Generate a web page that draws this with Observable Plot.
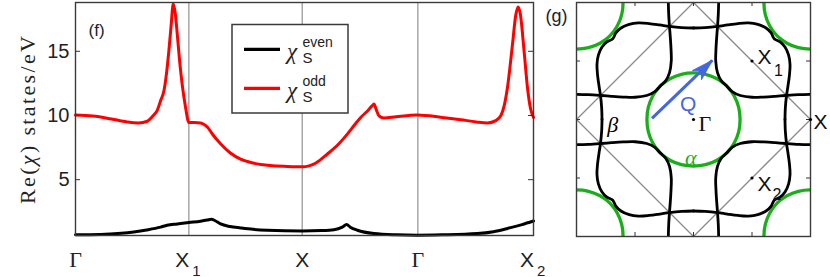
<!DOCTYPE html>
<html><head><meta charset="utf-8">
<script src="https://cdn.jsdelivr.net/npm/d3@7"></script>
<script src="https://cdn.jsdelivr.net/npm/@observablehq/plot@0.6"></script>
<style>
html,body{margin:0;padding:0;background:#fff;}
#wrap{position:relative;width:830px;height:277px;overflow:hidden;background:#fff;}
#wrap > *{position:absolute;top:0;}
</style></head><body><div id="wrap"></div>
<script>
// ===== Panel (f): Re(chi) along the high-symmetry path =====
const pathPos  = [0, 0.99, 1.98, 2.99, 4];
const pathName = ["Γ", "X", "X", "Γ", "X"];
const pathSub  = ["", "1", "", "", "2"];
const yTicks   = [5, 10, 15];

const oddK = [0, 0.15, 0.3, 0.45, 0.55, 0.627, 0.68, 0.714, 0.745, 0.772, 0.795, 0.815, 0.835, 0.854, 0.872, 0.889, 0.91, 0.932, 0.96, 0.99,
  1.04, 1.092, 1.151, 1.2, 1.267, 1.35, 1.442, 1.55, 1.7, 1.85, 1.981, 2.1, 2.2, 2.3, 2.374, 2.44, 2.491, 2.55, 2.59, 2.607, 2.625, 2.651, 2.694,
  2.8, 2.986, 3.2, 3.365, 3.5, 3.598, 3.67, 3.714, 3.75, 3.773, 3.816, 3.845, 3.865, 3.885, 3.918, 3.947, 3.975, 4.0];
const oddV = [10.03, 9.95, 9.75, 9.5, 9.42, 9.55, 10.0, 10.4, 11.2, 11.9, 13.3, 15.0, 17.0, 18.7, 17.9, 16.3, 14.2, 12.4, 10.7, 9.45,
  9.45, 9.42, 9.1, 8.5, 7.8, 7.1, 6.6, 6.3, 6.1, 6.03, 6.0, 6.3, 7.0, 7.8, 8.55, 9.3, 9.85, 10.35, 10.75, 10.9, 10.5, 9.97, 9.8,
  9.9, 10.03, 9.85, 9.67, 9.5, 9.42, 9.6, 9.98, 11.0, 12.2, 15.5, 17.8, 18.45, 17.9, 15.0, 12.2, 10.5, 9.85];

const evenK = [0, 0.218, 0.4, 0.509, 0.62, 0.743, 0.8, 0.889, 0.99, 1.092, 1.15, 1.186, 1.22, 1.267, 1.35, 1.442, 1.55, 1.675, 1.981,
  2.15, 2.257, 2.33, 2.368, 2.4, 2.462, 2.607, 2.8, 2.986, 3.2, 3.51, 3.65, 3.773, 3.9, 4.0];
const evenV = [0.7, 0.72, 0.82, 0.93, 1.08, 1.3, 1.45, 1.55, 1.66, 1.76, 1.85, 1.92, 1.8, 1.55, 1.35, 1.24, 1.13, 1.06, 1.0,
  1.03, 1.1, 1.3, 1.5, 1.3, 1.06, 0.8, 0.7, 0.67, 0.7, 0.8, 0.95, 1.2, 1.5, 1.78];

const seriesSup    = ["even", "odd"];
const seriesColors = ["#000000", "#ff0000"];

// ===== Panel (g): Fermi surface sketch (one symmetry-unique piece) =====
const alphaAngle  = [0, 15, 30, 45];          // degrees
const alphaRadius = [0.398, 0.4, 0.402, 0.404];
const betaInnerX = [0.285, 0.33, 0.4, 0.5, 0.6, 0.7, 0.79, 0.9, 1.0];
const betaInnerY = [0.285, 0.238, 0.205, 0.19, 0.192, 0.198, 0.205, 0.212, 0.215];
const betaOuterX = [0.69, 0.74, 0.782, 0.813, 0.825, 0.82, 0.808, 0.795, 0.785, 0.782];
const betaOuterY = [0.69, 0.664, 0.62, 0.55, 0.47, 0.38, 0.29, 0.205, 0.1, 0.0];
const bzX = [0, 1, 0, -1, 0];
const bzY = [1, 0, -1, 0, 1];
const symName = ["Γ", "X", "X", "X"];
const symSub  = ["", "1", "2", ""];
const symX    = [0, 0.5, 0.5, 1];
const symY    = [0, 0.5, -0.5, 0];
const qFrom = [-0.355, 0.01];
const qTo   = [0.16, 0.505];
const gTicks = [-0.5, 0, 0.5];
const bandLabels = [{t: "β", x: -0.69, y: -0.05, c: "#000"}, {t: "α", x: -0.024, y: -0.33, c: "#1aaf1a"}];
const qLabel = {t: "Q", x: -0.045, y: 0.127};

const SANS = "'Liberation Sans', Arial, sans-serif";
const SERIF = "'Liberation Serif', 'Times New Roman', serif";
const wrap = document.getElementById("wrap");

// ---------- panel f ----------
const W1 = 545, fL = 75, fR = 12, fT = 2, fB = 42;
const fW = W1 - fL - fR;
const odd = oddK.map((k, i) => ({k, v: oddV[i]}));
const even = evenK.map((k, i) => ({k, v: evenV[i]}));
const tk = pathPos.map((p, i) => ({p, name: pathName[i], sub: pathSub[i]}));

const plotF = Plot.plot({
  width: W1, height: 277, marginLeft: fL, marginRight: fR, marginTop: fT, marginBottom: fB,
  x: {domain: [0, 4], axis: null},
  y: {domain: [0.65, 18.8], axis: null},
  style: {fontFamily: SANS, fontSize: "20px", background: "transparent", overflow: "visible"},
  marks: [
    Plot.ruleX(pathPos.slice(1, -1), {stroke: "#9a9a9a", strokeWidth: 1.3}),
    Plot.line(even, {x: "k", y: "v", stroke: seriesColors[0], strokeWidth: 3, curve: "monotone-x"}),
    Plot.line(odd, {x: "k", y: "v", stroke: seriesColors[1], strokeWidth: 3, curve: "monotone-x"}),
    Plot.tickY(yTicks, {y: d => d, insetRight: fW - 5, stroke: "#333"}),
    Plot.tickY(yTicks, {y: d => d, insetLeft: fW - 5, stroke: "#333"}),
    Plot.frame({stroke: "#3a3a3a", strokeWidth: 1.4}),
    Plot.axisY(yTicks, {anchor: "left", tickSize: 0, tickPadding: 6, fontSize: 20, fontFamily: SANS, label: null, fill: "#222"}),
    Plot.text(tk.filter(d => d.name === "Γ"), {x: "p", text: "name", frameAnchor: "bottom", dy: 31, lineAnchor: "bottom", fontFamily: SERIF, fontSize: 22, fill: "#222"}),
    Plot.text(tk.filter(d => d.name !== "Γ" && d.sub === ""), {x: "p", text: "name", frameAnchor: "bottom", dy: 31, lineAnchor: "bottom", fontSize: 21, fill: "#222"}),
    Plot.text(tk.filter(d => d.sub !== ""), {x: "p", text: "name", frameAnchor: "bottom", dx: -6.5, dy: 31, lineAnchor: "bottom", fontSize: 21, fill: "#222"}),
    Plot.text(tk.filter(d => d.sub !== ""), {x: "p", text: "sub", frameAnchor: "bottom", dx: 3.5, dy: 40, lineAnchor: "bottom", textAnchor: "start", fontSize: 15, fill: "#222"}),
    Plot.text(["(f)"], {frameAnchor: "top-left", dx: 13, dy: 33, lineAnchor: "bottom", textAnchor: "start", fontSize: 17, fill: "#222"})
  ]
});
plotF.style.left = "0px";
wrap.appendChild(plotF);

// ---------- panel g ----------
const W2 = 294, gL = 40, gR = 20, gT = 2, gB = 41;
const gW = W2 - gL - gR, gH = 277 - gT - gB;

// alpha contour (full, by the 8-fold symmetry of the zone)
const oct = alphaAngle.map((a, i) => [a, alphaRadius[i]]);
const quarter = oct.concat(oct.slice(1, -1).reverse().map(([a, r]) => [90 - a, r]));
const alphaShape = [];
for (let q = 0; q < 4; q++) for (const [a, r] of quarter) {
  const t = (a + 90 * q) * Math.PI / 180;
  alphaShape.push([r * Math.cos(t), r * Math.sin(t)]);
}
const alphaRows = [];
[[0, 0], [1, 1], [-1, 1], [1, -1], [-1, -1]].forEach(([cx, cy], id) =>
  alphaShape.forEach(([x, y]) => alphaRows.push({x: x + cx, y: y + cy, id})));

// beta network from the two half-curves
function fullCurve(xs, ys) {
  const half = xs.map((x, i) => [x, ys[i]]);
  const other = half.map(([x, y]) => [y, x]).reverse();
  return other.concat(half.slice(1));
}
const betaRows = [];
let bid = 0;
for (const c of [fullCurve(betaInnerX, betaInnerY), fullCurve(betaOuterX, betaOuterY)])
  for (const [sx, sy] of [[1, 1], [-1, 1], [1, -1], [-1, -1]]) {
    c.forEach(([x, y]) => betaRows.push({x: sx * x, y: sy * y, id: bid}));
    bid++;
  }
const bzRows = bzX.map((x, i) => ({x, y: bzY[i]}));
const sym = symName.map((n, i) => ({n, s: symSub[i], x: symX[i], y: symY[i]}));
const BLUE = "#4466e0";
const qAngle = Math.atan2(qTo[0] - qFrom[0], qTo[1] - qFrom[1]) * 180 / Math.PI;
const headShape = {
  draw(ctx, l) {
    ctx.moveTo(0, -l);
    ctx.lineTo(-0.3 * l, 0);
    ctx.lineTo(0, -0.28 * l);
    ctx.lineTo(0.3 * l, 0);
    ctx.closePath();
  }
};

function symLabel(i, dx, dy, sdx, sdy) {
  const d = [sym[i]];
  const m = [Plot.text(d, {x: "x", y: "y", text: "n", dx, dy, textAnchor: "start", lineAnchor: "bottom",
    fontFamily: sym[i].n === "Γ" ? SERIF : SANS, fontSize: sym[i].n === "Γ" ? 22 : 21, fill: "#111"})];
  if (sym[i].s) m.push(Plot.text(d, {x: "x", y: "y", text: "s", dx: sdx, dy: sdy, textAnchor: "start", lineAnchor: "bottom", fontSize: 16, fill: "#111"}));
  return m;
}

const plotG = Plot.plot({
  width: W2, height: 277, marginLeft: gL, marginRight: gR, marginTop: gT, marginBottom: gB,
  x: {domain: [-1, 1], axis: null},
  y: {domain: [-1, 1], axis: null},
  style: {fontFamily: SANS, fontSize: "20px", background: "transparent", overflow: "visible"},
  marks: [
    Plot.line(bzRows, {x: "x", y: "y", stroke: "#8a8a8a", strokeWidth: 1.3}),
    Plot.line(alphaRows, {x: "x", y: "y", z: "id", stroke: "#1aaf1a", strokeWidth: 3.3, curve: "catmull-rom-closed", clip: true}),
    Plot.line(betaRows, {x: "x", y: "y", z: "id", stroke: "#000", strokeWidth: 2.8, curve: "catmull-rom", clip: true}),
    Plot.link([{x1: qFrom[0], y1: qFrom[1], x2: qTo[0], y2: qTo[1]}], {x1: "x1", y1: "y1", x2: "x2", y2: "y2", stroke: BLUE, strokeWidth: 3, insetEnd: 0}),
    Plot.vector([{x: qTo[0], y: qTo[1]}], {x: "x", y: "y", rotate: qAngle, length: 21, anchor: "end", shape: headShape, fill: BLUE, stroke: BLUE, strokeWidth: 1}),
    Plot.tickX(gTicks, {x: d => d, insetBottom: gH - 4, stroke: "#333"}),
    Plot.tickX(gTicks, {x: d => d, insetTop: gH - 4, stroke: "#333"}),
    Plot.tickY(gTicks, {y: d => d, insetRight: gW - 4, stroke: "#333"}),
    Plot.tickY(gTicks, {y: d => d, insetLeft: gW - 4, stroke: "#333"}),
    Plot.frame({stroke: "#3a3a3a", strokeWidth: 1.4}),
    Plot.dot(sym, {x: "x", y: "y", r: 1.6, fill: "#000"}),
    ...symLabel(0, 5, 11),
    ...symLabel(1, 5.5, 3, 22, 14.6),
    ...symLabel(2, 5.5, 13, 20.6, 22),
    ...symLabel(3, 3, 9),
    ...bandLabels.map(b => Plot.text([b], {x: "x", y: "y", text: "t", fill: b.c, fontFamily: SERIF, fontStyle: "italic", fontSize: 22})),
    Plot.text([qLabel], {x: "x", y: "y", text: "t", fill: BLUE, fontSize: 21}),
    Plot.text(["(g)"], {frameAnchor: "top-left", dx: -31, dy: 19, lineAnchor: "bottom", textAnchor: "start", fontSize: 18, fill: "#222"})
  ]
});
plotG.style.left = "536px";
wrap.appendChild(plotG);

// ---------- overlay: y label and legend ----------
const NS = "http://www.w3.org/2000/svg";
const ov = document.createElementNS(NS, "svg");
ov.setAttribute("width", 830); ov.setAttribute("height", 277);
ov.style.left = "0px";
let html = `<text transform="translate(35,120) rotate(-90)" text-anchor="middle" font-family="${SERIF}" font-size="22" fill="#222" textLength="168" lengthAdjust="spacing">Re(<tspan font-style="italic">χ</tspan>) states/eV</text>`;
html += `<rect x="232" y="24.5" width="116" height="88.5" fill="#fff" stroke="#3a3a3a" stroke-width="1.5"/>`;
seriesSup.forEach((s, i) => {
  const ly = 49.3 + i * 39;
  html += `<line x1="244" x2="280" y1="${ly}" y2="${ly}" stroke="${seriesColors[i]}" stroke-width="3.2"/>`;
  html += `<text x="287" y="${ly + 9.5}" font-family="${SERIF}" font-style="italic" font-size="23" fill="#222">χ</text>`;
  html += `<text x="302.5" y="${ly - 2.8}" font-family="${SANS}" font-size="14" fill="#222">${s}</text>`;
  html += `<text x="302.5" y="${ly + 13.4}" font-family="${SANS}" font-size="15" fill="#222">S</text>`;
});
ov.innerHTML = html;
wrap.appendChild(ov);
</script>
</body></html>
